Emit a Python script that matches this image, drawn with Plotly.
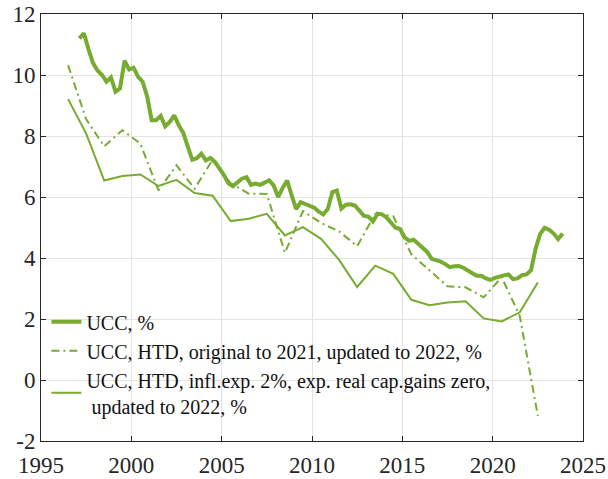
import plotly.graph_objects as go

# -----------------------------
# Data
# -----------------------------
# UCC, % (quarterly, first quarter of 1997 to last quarter of 2023)
ucc_start_year = 1997
ucc = [
    11.20, 11.37, 10.85, 10.40, 10.15, 10.00, 9.78, 9.92, 9.45, 9.56, 10.47, 10.18,
    10.24, 9.94, 9.78, 9.30, 8.52, 8.52, 8.66, 8.32, 8.46, 8.68, 8.35, 8.10,
    7.65, 7.22, 7.27, 7.42, 7.20, 7.28, 7.15, 6.95, 6.72, 6.45, 6.35, 6.48,
    6.60, 6.65, 6.40, 6.44, 6.40, 6.47, 6.55, 6.38, 6.00, 6.30, 6.54, 6.05,
    5.60, 5.83, 5.77, 5.70, 5.65, 5.52, 5.43, 5.61, 6.16, 6.21, 5.62, 5.75,
    5.76, 5.72, 5.53, 5.38, 5.36, 5.20, 5.45, 5.43, 5.33, 5.17, 4.99, 4.95,
    4.68, 4.56, 4.60, 4.47, 4.35, 4.20, 3.97, 3.94, 3.88, 3.80, 3.70, 3.73,
    3.74, 3.68, 3.57, 3.50, 3.42, 3.42, 3.33, 3.28, 3.35, 3.40, 3.43, 3.46,
    3.31, 3.33, 3.44, 3.46, 3.60, 4.30, 4.78, 4.99, 4.93, 4.80, 4.62, 4.80,
]
ucc_x = [ucc_start_year + 0.125 + 0.25 * i for i in range(len(ucc))]

# HTD series (annual, plotted mid-year)
htd_years = list(range(1996, 2023))
htd_x = [y + 0.5 for y in htd_years]
htd_original = [
    10.32, 8.55, 7.66, 8.19, 7.75, 6.22, 7.04, 6.27, 7.22, 6.45,
    6.11, 6.10, 4.17, 5.54, 5.15, 4.87, 4.39, 5.45, 5.37, 4.12,
    3.60, 3.07, 3.04, 2.71, 3.37, 2.10, -1.18,
]
htd_infl2 = [
    9.21, 8.08, 6.54, 6.69, 6.74, 6.36, 6.56, 6.13, 6.04, 5.21,
    5.29, 5.45, 4.74, 5.01, 4.63, 3.94, 3.05, 3.75, 3.48, 2.63,
    2.45, 2.54, 2.58, 2.02, 1.92, 2.22, 3.20,
]

x_ticks = [1995, 2000, 2005, 2010, 2015, 2020, 2025]
y_ticks = [-2, 0, 2, 4, 6, 8, 10, 12]
y_tick_labels = ["-2", "0", "2", "4", "6", "8", "10", "12"]

green = "#77AC30"
serif = '"Liberation Serif", "Times New Roman", "DejaVu Serif", serif'

fig = go.Figure()
fig.add_trace(go.Scatter(
    x=ucc_x, y=ucc, mode="lines", name="UCC, %",
    line=dict(color=green, width=4),
))
fig.add_trace(go.Scatter(
    x=htd_x, y=htd_original, mode="lines",
    name="UCC, HTD, original to 2021, updated to 2022, %",
    line=dict(color=green, width=2, dash="8px,4px,2px,4px"),
))
fig.add_trace(go.Scatter(
    x=htd_x, y=htd_infl2, mode="lines",
    name="UCC, HTD, infl.exp. 2%, exp. real cap.gains zero,<br> updated to 2022, %",
    line=dict(color=green, width=2),
))

axis_style = dict(
    showline=True, linecolor="#262626", linewidth=1, mirror="ticks",
    ticks="inside", ticklen=5, tickcolor="#262626",
    showgrid=True, gridcolor="#e3e3e3", gridwidth=1, zeroline=False,
    tickfont=dict(family=serif, size=23, color="#262626"),
    automargin=False,
)

fig.update_xaxes(range=[1995, 2025], tickvals=x_ticks, ticklabelstandoff=3, **axis_style)
fig.update_yaxes(range=[-2, 12], tickvals=y_ticks, ticktext=y_tick_labels, **axis_style)

fig.update_layout(
    width=608, height=479,
    margin=dict(l=41, r=25, t=14, b=38),
    plot_bgcolor="white", paper_bgcolor="white",
    font=dict(family=serif, color="#111111"),
    legend=dict(
        x=0.01, y=0.325, xanchor="left", yanchor="top",
        bgcolor="rgba(0,0,0,0)", borderwidth=0,
        font=dict(family=serif, size=20, color="#111111"),
        tracegroupgap=0,
    ),
)

# drop the default page margin so the figure sits at the window corner
fig.write_html(
    "out.html",
    config={"displayModeBar": False},
    post_script="document.body.style.margin='0';",
)
